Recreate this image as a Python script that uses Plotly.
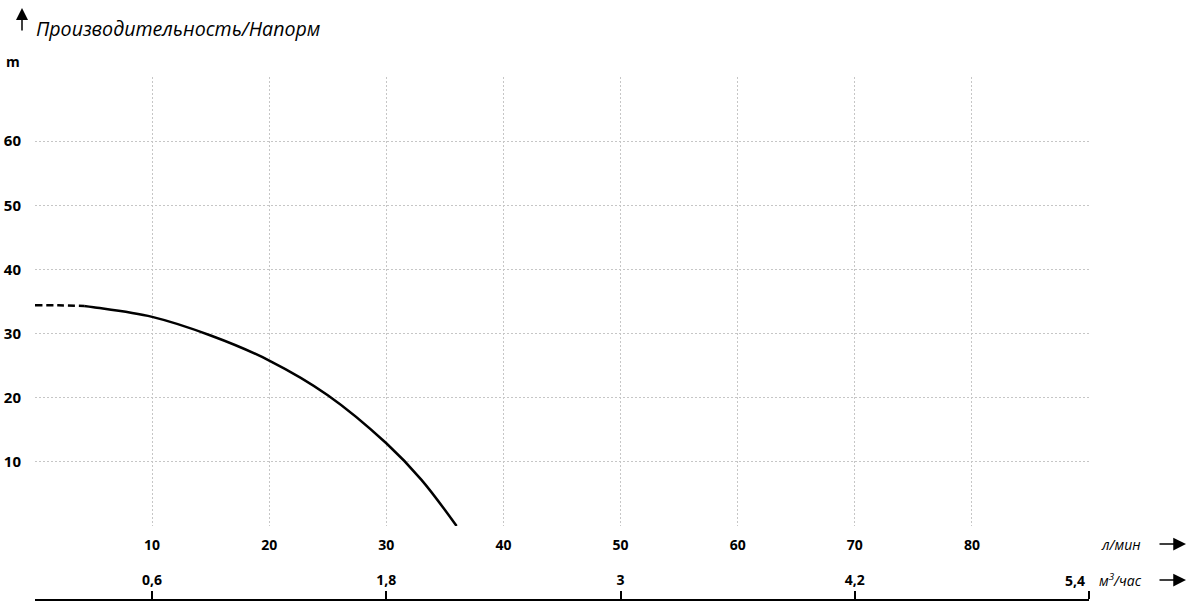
import plotly.graph_objects as go

# ---- data ----
flow_dashed = [0, 2, 4.2]
head_dashed = [34.4, 34.4, 34.3]
flow_solid = [4.2, 5, 10, 15, 20, 25, 30, 33, 36]
head_solid = [34.3, 34.1, 32.6, 29.7, 25.8, 20.4, 12.9, 7.2, 0]

lmin_ticks = [0, 10, 20, 30, 40, 50, 60, 70, 80, 90]
lmin_labels = ["", "10", "20", "30", "40", "50", "60", "70", "80", ""]
m3_ticks = [0.6, 1.8, 3.0, 4.2, 5.4]
m3_labels = ["0,6", "1,8", "3", "4,2", ""]
m3_last_label = "5,4"
head_ticks = [0, 10, 20, 30, 40, 50, 60, 70]
head_labels = ["", "10", "20", "30", "40", "50", "60", ""]

W, H = 1193, 614
L, R, T, B = 35, 104, 77, 14
plot_bottom_px = 526
pw = W - L - R
ph = H - T - B
dom0 = (H - B - plot_bottom_px) / ph

def px_x(x):
    return (x - L) / pw

def px_y(y):
    return (H - B - y) / ph

BOLD_Y = dict(family="Open Sans", size=15, color="black", weight=700)
BOLD_X = dict(family="Open Sans", size=14, color="black", weight=700)
GRID = "#c6c6c6"

fig = go.Figure()
fig.add_trace(go.Scatter(x=flow_dashed, y=head_dashed, mode="lines",
                         line=dict(color="black", width=2.5, dash="7px,4px", shape="spline"),
                         hoverinfo="skip", showlegend=False))
fig.add_trace(go.Scatter(x=flow_solid, y=head_solid, mode="lines",
                         line=dict(color="black", width=2.5, shape="spline"),
                         hoverinfo="skip", showlegend=False))
fig.add_trace(go.Scatter(x=[0, 5.4], y=[0, 0], xaxis="x2", mode="none",
                         hoverinfo="skip", showlegend=False))

fig.update_layout(
    width=W, height=H,
    margin=dict(l=L, r=R, t=T, b=B, autoexpand=False),
    paper_bgcolor="white", plot_bgcolor="white",
    font=dict(family="Open Sans", color="black"),
    xaxis=dict(range=[0, 90], tickvals=lmin_ticks, ticktext=lmin_labels,
               showgrid=True, gridcolor=GRID, griddash="2px,2px", gridwidth=1,
               zeroline=False, showline=False, ticks="outside", ticklen=6,
               tickcolor="rgba(0,0,0,0)", tickfont=BOLD_X, anchor="y", automargin=False),
    xaxis2=dict(range=[0, 5.4], tickvals=m3_ticks, ticktext=m3_labels,
                overlaying="x", anchor="free", position=0, side="top",
                showgrid=False, zeroline=False, showline=True, linecolor="black",
                linewidth=2, ticks="outside", ticklen=8, tickwidth=1.5,
                tickcolor="black", tickfont=BOLD_X, automargin=False),
    yaxis=dict(range=[0, 70], domain=[dom0, 1], tickvals=head_ticks, ticktext=head_labels,
               showgrid=True, gridcolor=GRID, griddash="2px,2px", gridwidth=1,
               zeroline=False, showline=False, ticks="outside", ticklen=10,
               tickcolor="rgba(0,0,0,0)", tickfont=BOLD_Y, automargin=False),
)

# small black square at origin
fig.add_shape(type="rect", xref="x", yref="y", xsizemode="pixel", ysizemode="pixel",
              xanchor=0, yanchor=0, x0=-9, x1=1, y0=-13, y1=-3,
              fillcolor="black", line=dict(width=0))

ann = []
ann.append(dict(x=px_x(34), y=px_y(29), xref="paper", yref="paper", xanchor="left",
                yanchor="middle", showarrow=False, text="Производительность/Напорм",
                font=dict(family="Open Sans", size=19.6, style="italic", color="black")))
ann.append(dict(x=px_x(13), y=px_y(61), xref="paper", yref="paper", xanchor="center",
                yanchor="middle", showarrow=False, text="m", font=BOLD_X))
ann.append(dict(x=m3_ticks[-1], y=px_y(580), xref="x2", yref="paper", xanchor="right",
                xshift=-2, yanchor="middle", showarrow=False, text=m3_last_label, font=BOLD_X))
ann.append(dict(x=px_x(1099), y=px_y(544), xref="paper", yref="paper", xanchor="left",
                yanchor="middle", showarrow=False, text="л/мин",
                font=dict(family="Open Sans", size=14, style="italic", color="black")))
ann.append(dict(x=px_x(1097), y=px_y(580), xref="paper", yref="paper", xanchor="left",
                yanchor="middle", showarrow=False, text="м<sup>3</sup>/час",
                font=dict(family="Open Sans", size=14, style="italic", color="black")))
for yy in (544, 580):
    ann.append(dict(x=px_x(1186), y=px_y(yy), xref="paper", yref="paper", text="",
                    showarrow=True, ax=-28, ay=0, arrowhead=2, arrowsize=1.7,
                    arrowwidth=1.5, arrowcolor="black"))
ann.append(dict(x=px_x(22), y=px_y(8), xref="paper", yref="paper", text="",
                showarrow=True, ax=0, ay=24, arrowhead=2, arrowsize=1.6,
                arrowwidth=1.5, arrowcolor="black"))
fig.update_layout(annotations=ann)

fig.write_html("out.html", config={"displayModeBar": False},
               post_script="document.body.style.margin='0';")
